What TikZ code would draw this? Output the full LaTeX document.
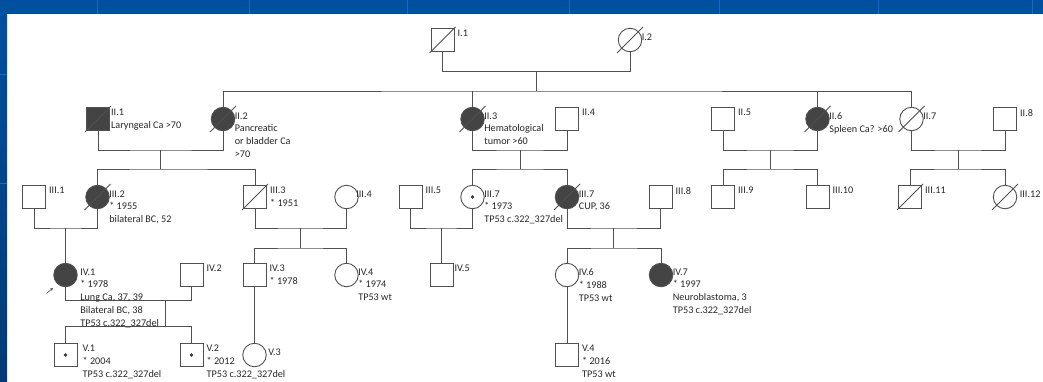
\documentclass[tikz,border=0pt]{standalone}
\usepackage{fontspec}
\setmainfont{Carlito}
\usetikzlibrary{positioning, calc, arrows.meta}
\definecolor{slide}{RGB}{0, 80, 160}
\definecolor{slidedark}{RGB}{0, 58, 118}
\definecolor{slidegrid}{RGB}{25, 105, 195}
\definecolor{pedline}{RGB}{80, 80, 80}
\definecolor{affect}{RGB}{68, 68, 68}
\definecolor{txt}{RGB}{40, 40, 40}

\begin{document}
\begin{tikzpicture}[x=1pt, y=-1pt,
    font=\fontsize{10.2}{12.8}\selectfont,
    male/.style={rectangle, draw=pedline, fill=white, line width=0.9pt, minimum size=23pt, inner sep=0pt},
    female/.style={circle, draw=pedline, fill=white, line width=0.9pt, minimum size=23.5pt, inner sep=0pt},
    affected/.style={fill=affect},
    rel/.style={draw=pedline, line width=0.9pt},
    slash/.style={draw=pedline, line width=0.9pt},
    lbl/.style={anchor=north west, align=left, inner sep=0pt, text=txt, xshift=3pt, yshift=-2pt}
  ]
  % slide background
  \useasboundingbox (0,0) rectangle (1043,381);
  \fill[white] (0,0) rectangle (1043,381);
  \shade[top color=slide, bottom color=slidedark] (0,0) rectangle (7,381);
  \fill[slide] (0,0) rectangle (1043,14);
  \foreach \gx in {97,249,407,569,719,878,1032}
    \draw[slidegrid, line width=1pt] (\gx,0) -- (\gx,14);
  \foreach \gy in {74,183}
    \draw[slidegrid, line width=1pt] (0,\gy) -- (7,\gy);

  % Generation I
  \node[male] (i1) at (442.5,40) {};
  \node[female] (i2) at (630,40) {};

  % Generation II
  \node[male, affected] (ii1) at (98,119) {};
  \node[female, affected] (ii2) at (223,119) {};
  \node[female, affected] (ii3) at (472.5,119) {};
  \node[male] (ii4) at (567,119) {};
  \node[male] (ii5) at (723,119) {};
  \node[female, affected] (ii6) at (817.5,119) {};
  \node[female] (ii7) at (911.5,119) {};
  \node[male] (ii8) at (1005,119) {};

  % Generation III
  \node[male] (iii1) at (34,197) {};
  \node[female, affected] (iii2) at (97.5,197) {};
  \node[male] (iii3) at (255,197) {};
  \node[female] (iii4) at (346.5,197) {};
  \node[male] (iii5) at (410.5,197) {};
  \node[female] (iii7a) at (472.5,197) {};
  \node[female, affected] (iii7b) at (567,197) {};
  \node[male] (iii8) at (660.5,197) {};
  \node[male] (iii9) at (723,197) {};
  \node[male] (iii10) at (817.5,197) {};
  \node[male] (iii11) at (910,197) {};
  \node[female] (iii12) at (1005,197) {};

  % Generation IV
  \node[female, affected] (iv1) at (65.5,275) {};
  \node[male] (iv2) at (191.5,275) {};
  \node[male] (iv3) at (254.5,275) {};
  \node[female] (iv4) at (346.5,275) {};
  \node[male] (iv5) at (441.5,275) {};
  \node[female] (iv6) at (567,275) {};
  \node[female, affected] (iv7) at (661,275) {};

  % Generation V
  \node[male] (v1) at (65.5,355) {};
  \node[male] (v2) at (191.5,355) {};
  \node[female] (v3) at (254.5,355) {};
  \node[male] (v4) at (567,355) {};

  % deceased and carriers
  \foreach \n in {i1,i2,ii1,ii2,ii3,ii6,ii7,iii2,iii3,iii7b,iii11,iii12}
    \draw[slash] ([shift={(-13,13)}]\n.center) -- ([shift={(13,-13)}]\n.center);
  \foreach \n in {iii7a,v1,v2}
    \fill[pedline!70!black] (\n.center) circle (1.9);

  % I.1 x I.2
  \coordinate (m1) at (536,71.5);
  \coordinate (s1) at (536,91);
  \draw[rel] (i1) |- (m1) -| (i2);
  \draw[rel] (m1) -- (s1);
  \draw[rel] (ii2) |- (s1) -| (ii7);
  \draw[rel] (ii3) -- (ii3 |- s1);
  \draw[rel] (ii6) -- (ii6 |- s1);

  % II.1 x II.2
  \coordinate (m2) at (160.5,150);
  \coordinate (s2) at (160.5,169);
  \draw[rel] (ii1) |- (m2) -| (ii2);
  \draw[rel] (m2) -- (s2);
  \draw[rel] (iii2) |- (s2) -| (iii3);

  % II.3 x II.4
  \coordinate (m3) at (520,150);
  \coordinate (s3) at (520,169);
  \draw[rel] (ii3) |- (m3) -| (ii4);
  \draw[rel] (m3) -- (s3);
  \draw[rel] (iii7a) |- (s3) -| (iii7b);

  % II.5 x II.6
  \coordinate (m4) at (770,150);
  \coordinate (s4) at (770,169);
  \draw[rel] (ii5) |- (m4) -| (ii6);
  \draw[rel] (m4) -- (s4);
  \draw[rel] (iii9) |- (s4) -| (iii10);

  % II.7 x II.8
  \coordinate (m5) at (958,150);
  \coordinate (s5) at (958,169);
  \draw[rel] (ii7) |- (m5) -| (ii8);
  \draw[rel] (m5) -- (s5);
  \draw[rel] (iii11) |- (s5) -| (iii12);

  % III.1 x III.2
  \coordinate (m6) at (65.5,228);
  \draw[rel] (iii1) |- (m6) -| (iii2);
  \draw[rel] (m6) -- (iv1);

  % III.3 x III.4
  \coordinate (m7) at (300.5,228);
  \coordinate (s7) at (300.5,248);
  \draw[rel] (iii3) |- (m7) -| (iii4);
  \draw[rel] (m7) -- (s7);
  \draw[rel] (iv3) |- (s7) -| (iv4);

  % III.5 x III.7
  \coordinate (m8) at (441.5,228);
  \draw[rel] (iii5) |- (m8) -| (iii7a);
  \draw[rel] (m8) -- (iv5);

  % III.7 x III.8
  \coordinate (m9) at (613.75,228);
  \coordinate (s9) at (613.75,248);
  \draw[rel] (iii7b) |- (m9) -| (iii8);
  \draw[rel] (m9) -- (s9);
  \draw[rel] (iv6) |- (s9) -| (iv7);

  % IV.1 x IV.2
  \coordinate (m10) at (165.5,300.5);
  \coordinate (s10) at (165.5,326.5);
  \draw[rel] (iv1) |- (m10) -| (iv2);
  \draw[rel] (m10) -- (s10);
  \draw[rel] (v1) |- (s10) -| (v2);

  % single parents
  \draw[rel] (iv3) -- (v3);
  \draw[rel] (iv6) -- (v4);

  % proband arrow
  \coordinate (prob) at (46.5,293.5);
  \draw[pedline, line width=0.6pt, -{Stealth[length=3pt, width=3pt]}] (prob) -- ++(6.5,-5.5);

  % labels
  \node[lbl] (i1-l) at (i1.north east) {I.1};
  \node[lbl] (i2-l) at (i2.north east) {I.2};
  \node[lbl, xshift=-2pt] (ii1-l) at (ii1.north east) {II.1\\Laryngeal Ca >70};
  \node[lbl] (ii2-l) at (ii2.north east) {II.2\\Pancreatic\\or bladder Ca\\>70};
  \node[lbl] (ii3-l) at (ii3.north east) {II.3\\Hematological\\tumor >60};
  \node[lbl] (ii4-l) at (ii4.north east) {II.4};
  \node[lbl] (ii5-l) at (ii5.north east) {II.5};
  \node[lbl] (ii6-l) at (ii6.north east) {II.6\\Spleen Ca? >60};
  \node[lbl] (ii7-l) at (ii7.north east) {II.7};
  \node[lbl] (ii8-l) at (ii8.north east) {II.8};
  \node[lbl] (iii1-l) at (iii1.north east) {III.1};
  \node[lbl] (iii2-l) at (iii2.north east) {III.2\\* 1955\\bilateral BC, 52};
  \node[lbl] (iii3-l) at (iii3.north east) {III.3\\* 1951};
  \node[lbl, xshift=-2pt] (iii4-l) at (iii4.north east) {III.4};
  \node[lbl] (iii5-l) at (iii5.north east) {III.5};
  \node[lbl] (iii7a-l) at (iii7a.north east) {III.7\\* 1973\\TP53 c.322\_327del};
  \node[lbl] (iii7b-l) at (iii7b.north east) {III.7\\CUP, 36};
  \node[lbl] (iii8-l) at (iii8.north east) {III.8};
  \node[lbl] (iii9-l) at (iii9.north east) {III.9};
  \node[lbl] (iii10-l) at (iii10.north east) {III.10};
  \node[lbl] (iii11-l) at (iii11.north east) {III.11};
  \node[lbl, xshift=3pt] (iii12-l) at (iii12.north east) {III.12};
  \node[lbl, xshift=3pt] (iv1-l) at (iv1.north east) {IV.1\\* 1978\\Lung Ca, 37, 39\\Bilateral BC, 38\\TP53 c.322\_327del};
  \node[lbl] (iv2-l) at (iv2.north east) {IV.2};
  \node[lbl] (iv3-l) at (iv3.north east) {IV.3\\* 1978};
  \node[lbl] (iv4-l) at (iv4.north east) {IV.4\\* 1974\\TP53 wt};
  \node[lbl, xshift=-2pt] (iv5-l) at (iv5.north east) {IV.5};
  \node[lbl] (iv6-l) at (iv6.north east) {IV.6\\* 1988\\TP53 wt};
  \node[lbl] (iv7-l) at (iv7.north east) {IV.7\\* 1997\\Neuroblastoma, 3\\TP53 c.322\_327del};
  \node[lbl, xshift=2pt] (v1-l) at (v1.north east) {V.1\\* 2004\\TP53 c.322\_327del};
  \node[lbl] (v2-l) at (v2.north east) {V.2\\* 2012\\TP53 c.322\_327del};
  \node[lbl, xshift=2pt] (v3-l) at (v3.north east) {V.3};
  \node[lbl] (v4-l) at (v4.north east) {V.4\\* 2016\\TP53 wt};
\end{tikzpicture}
\end{document}
